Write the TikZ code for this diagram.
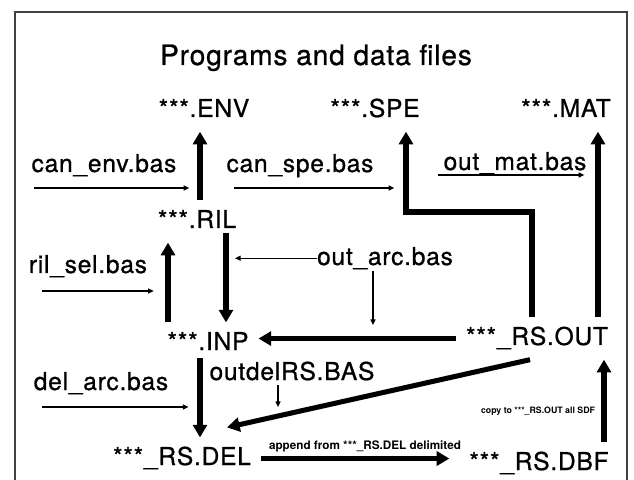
\documentclass[tikz,border=0pt]{standalone}
\usepackage{fontspec}
\setmainfont{TeX Gyre Heros}
\newfontfamily\heavy[FakeBold=0.8,LetterSpace=3]{TeX Gyre Heros}
\usetikzlibrary{calc,arrows.meta}
\tikzset{
	file/.style={inner sep=0pt, outer sep=0.3cm, anchor=base, font={\heavy\fontsize{21}{24}\selectfont}, text height=15pt, text depth=4pt},
	prog/.style={inner sep=0pt, anchor=base, font={\heavy\fontsize{21}{24}\selectfont}},
	note/.style={inner sep=0pt, anchor=base, font={\bfseries\fontsize{10}{12}\selectfont}},
	fat/.style={line width=4.3pt, -{Triangle[length=0.38cm,width=0.42cm]}},
	slim/.style={line width=1.1pt, -{Triangle[length=0.17cm,width=0.15cm]}},
}

\begin{document}
\begin{tikzpicture}[x=0.03cm, y=-0.03cm]
	\useasboundingbox (0,0) rectangle (634,480);
	\draw[line width=1pt, black!75] (15,480) -- (15,12) -- (627,12) -- (627,480);
	
	\node[anchor=base, font={\heavy\fontsize{24}{29}\selectfont}] (title) at (316,65) {Programs and data files};
	
	\node[file] (env) at (204,117) {***.ENV};
	\node[file] (spe) at (375,117) {***.SPE};
	\node[file] (mat) at (566,117) {***.MAT};
	\node[file] (ril) at (197,228) {***.RIL};
	\node[file] (inp) at (208,350) {***.INP};
	\node[file] (rsout) at (537,345) {***\_RS.OUT};
	\node[file] (rsdel) at (182,465) {***\_RS.DEL};
	\node[file] (rsdbf) at (539,470) {***\_RS.DBF};
	
	\node[prog] (canenv) at (104,172) {can\_env.bas};
	\node[prog] (canspe) at (300,172) {can\_spe.bas};
	\node[prog] (outmat) at (515,170) {out\_mat.bas};
	\node[prog] (rilsel) at (88,273) {ril\_sel.bas};
	\node[prog] (outarc) at (385,265) {out\_arc.bas};
	\node[prog] (outdel) at (292,380) {outdelRS.BAS};
	\node[prog] (delarc) at (101,390) {del\_arc.bas};
	
	\node[note] (append) at (365,449) {append from ***\_RS.DEL delimited};
	\node[note, font={\bfseries\fontsize{7.5}{9}\selectfont}] (copy) at (538,414) {copy to ***\_RS.OUT all SDF};
	
	\coordinate (c1) at (168,0);
	\coordinate (c2) at (200,0);
	\coordinate (c3) at (226,0);
	\coordinate (c4) at (406,0);
	\coordinate (c5) at (532,0);
	\coordinate (c6) at (598,0);
	\coordinate (c7) at (604,0);
	\coordinate (r1) at (0,212);
	
	\draw[fat] (inp.north -| c1) -- (ril.south -| c1);
	\draw[fat] (ril.north -| c2) -- (env.south -| c2);
	\draw[fat, shorten <=-0.3cm] (ril.south -| c3) -- (inp.north -| c3);
	\draw[fat, shorten <=-0.2cm] (inp.south -| c2) -- (rsdel.north -| c2);
	\draw[fat] (rsout.west) -- (inp.east |- rsout.west);
	\draw[fat] ($(rsout.south)+(-7,0)$) -- ($(rsdel.north)+(45,-10)$);
	\draw[fat] (rsout.north -| c5) -- (c5 |- r1) -- (c4 |- r1) -- (spe.south -| c4);
	\draw[fat] (rsout.north -| c6) -- (mat.south -| c6);
	\draw[fat] (rsdbf.north -| c7) -- (rsout.south -| c7);
	\draw[fat, shorten >=0.3cm] (rsdel.east) -- (rsdel.east -| rsdbf.west);
	
	\draw[slim] ($(canenv.base west)+(3,16)$) -- ++(155,0);
	\draw[slim] ($(canspe.base west)+(8,16)$) -- ++(160,0);
	\draw[slim] ($(outmat.base west)+(-5,5)$) -- ++(146,0);
	\draw[slim] ($(rilsel.base west)+(13,18)$) -- ++(112,0);
	\draw[slim] ($(delarc.base west)+(8,17)$) -- ++(147,0);
	\draw[slim] (outarc.west) -- ($(outarc.west -| c3)+(9,0)$);
	\draw[slim] ($(outarc.base)+(-12,6)$) -- ++(0,54);
	\draw[slim] ($(outdel.base)+(-14,5)$) -- ++(0,22);
\end{tikzpicture}
\end{document}
